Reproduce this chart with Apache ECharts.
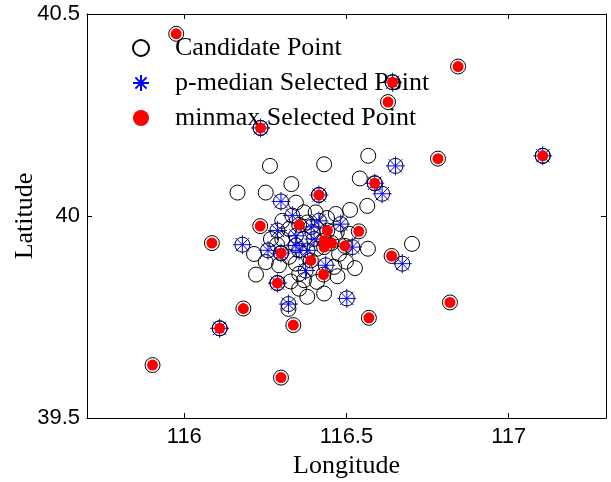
<!DOCTYPE html>
<html>
<head>
<meta charset="utf-8">
<script src="https://cdn.jsdelivr.net/npm/echarts@6/dist/echarts.min.js"></script>
<style>
html,body{margin:0;padding:0;background:#fff;}
#chart{width:611px;height:482px;}
</style>
</head>
<body>
<div id="chart"></div>
<script>
// ---- data ----
const xTickValues = [116, 116.5, 117];
const yTickValues = [39.5, 40, 40.5];
const seriesNames = ['Candidate Point', 'p-median Selected Point', 'minmax Selected Point'];

const minmaxPoints = [
  [115.975,40.451],[116.844,40.370],[116.642,40.331],[116.628,40.282],[116.235,40.218],
  [116.782,40.142],[117.105,40.149],[116.587,40.081],[116.415,40.052],[116.234,39.975],
  [116.085,39.933],[116.354,39.978],[116.441,39.964],[116.538,39.962],[116.431,39.939],
  [116.454,39.933],[116.431,39.923],[116.495,39.926],[116.298,39.908],[116.390,39.890],
  [116.429,39.855],[116.287,39.834],[116.639,39.901],[116.182,39.771],[116.336,39.730],
  [116.109,39.722],[116.569,39.748],[116.819,39.786],[115.902,39.631],[116.298,39.600]
];

const pMedianPoints = [
  [116.642,40.331],[116.235,40.218],[117.105,40.149],[116.651,40.124],[116.587,40.081],
  [116.610,40.055],[116.415,40.052],[116.298,40.036],[116.333,40.001],[116.415,39.988],
  [116.482,39.980],[116.287,39.964],[116.344,39.951],[116.179,39.929],[116.258,39.915],
  [116.298,39.908],[116.354,39.915],[116.518,39.923],[116.672,39.882],[116.436,39.878],
  [116.374,39.865],[116.287,39.834],[116.501,39.796],[116.321,39.782],[116.109,39.722],
  [116.391,39.973],[116.400,39.943],[116.344,39.927],[116.380,39.915]
];

const otherCandidatePoints = [
  [116.264,40.124],[116.431,40.128],[116.567,40.149],[116.330,40.079],[116.164,40.058],
  [116.251,40.058],[116.344,40.033],[116.541,40.093],[116.564,40.025],[116.511,40.015],
  [116.467,40.005],[116.405,40.009],[116.369,40.009],[116.302,39.988],[116.379,39.984],
  [116.267,39.943],[116.302,39.943],[116.215,39.906],[116.221,39.855],[116.251,39.886],
  [116.292,39.878],[116.344,39.882],[116.566,39.919],[116.702,39.931],[116.526,39.871],
  [116.498,39.887],[116.328,39.838],[116.472,39.851],[116.369,39.841],[116.379,39.800],
  [116.431,39.808],[116.321,39.770],[116.323,39.968],[116.369,39.943],[116.409,39.919],
  [116.323,39.899],[116.477,39.906],[116.462,39.874],[116.409,39.837],[116.354,39.820],
  [116.508,39.956],[116.354,39.857],[116.286,39.929],[116.440,39.995],[116.470,39.960],
  [116.395,39.960]
];

const candidatePoints = otherCandidatePoints.concat(minmaxPoints, pMedianPoints);

// ---- chart ----
const chart = echarts.init(document.getElementById('chart'), null, {renderer: 'canvas'});
const asterisk = 'path://M0,-10L0,10M-10,0L10,0M-7,-7L7,7M-7,7L7,-7';
const tickFont = {fontFamily: 'Liberation Sans', fontSize: 22, color: '#000'};
const serifFont = 'Liberation Serif';

function xAxisCfg(pos, showLabel) {
  return {
    type: 'value', position: pos, min: 115.7, max: 117.3,
    axisLine: {show: true, onZero: false, lineStyle: {color: '#000', width: 1}},
    axisTick: {show: true, inside: true, length: 5, customValues: xTickValues, lineStyle: {color: '#000'}},
    axisLabel: Object.assign({show: showLabel, margin: 8, customValues: xTickValues}, tickFont),
    splitLine: {show: false}
  };
}
function yAxisCfg(pos, showLabel) {
  return {
    type: 'value', position: pos, min: 39.5, max: 40.5, interval: 0.5,
    axisLine: {show: true, onZero: false, lineStyle: {color: '#000', width: 1}},
    axisTick: {show: true, inside: true, length: 5, lineStyle: {color: '#000'}},
    axisLabel: Object.assign({show: showLabel, margin: 7, formatter: v => String(v)}, tickFont),
    splitLine: {show: false}
  };
}

const xb = xAxisCfg('bottom', true);
xb.name = 'Longitude';
xb.nameLocation = 'middle';
xb.nameGap = 35;
xb.nameMoveOverlap = false;
xb.nameTextStyle = {fontFamily: serifFont, fontSize: 26, color: '#000'};
const yl = yAxisCfg('left', true);
yl.name = 'Latitude';
yl.nameLocation = 'middle';
yl.nameGap = 49;
yl.nameMoveOverlap = false;
yl.nameTextStyle = {fontFamily: serifFont, fontSize: 26, color: '#000'};

chart.setOption({
  animation: false,
  backgroundColor: '#fff',
  grid: {left: 87, right: 5, top: 14, bottom: 64, containLabel: false, outerBoundsMode: 'none'},
  legend: {
    orient: 'vertical', left: 127, top: 30, itemGap: 9,
    itemWidth: 16, itemHeight: 16,
    selectedMode: false,
    textStyle: {fontFamily: serifFont, fontSize: 26, color: '#000', lineHeight: 26, padding: [0, 0, 0, 21]},
    data: seriesNames
  },
  xAxis: [xb, xAxisCfg('top', false)],
  yAxis: [yl, yAxisCfg('right', false)],
  series: [
    {
      name: seriesNames[0], type: 'scatter', data: candidatePoints,
      symbol: 'circle', symbolSize: 15,
      itemStyle: {color: 'rgba(0,0,0,0)', borderColor: '#000', borderWidth: 1, opacity: 1},
      emphasis: {disabled: true}, z: 2
    },
    {
      name: seriesNames[1], type: 'scatter', data: pMedianPoints,
      symbol: asterisk, symbolSize: 19,
      itemStyle: {color: 'rgba(0,0,0,0)', borderColor: '#0000ff', borderWidth: 1, opacity: 1},
      emphasis: {disabled: true}, z: 3
    },
    {
      name: seriesNames[2], type: 'scatter', data: minmaxPoints,
      symbol: 'circle', symbolSize: 11,
      itemStyle: {color: '#ff0000', borderWidth: 0, opacity: 1},
      emphasis: {disabled: true}, z: 4
    }
  ]
});
</script>
</body>
</html>
